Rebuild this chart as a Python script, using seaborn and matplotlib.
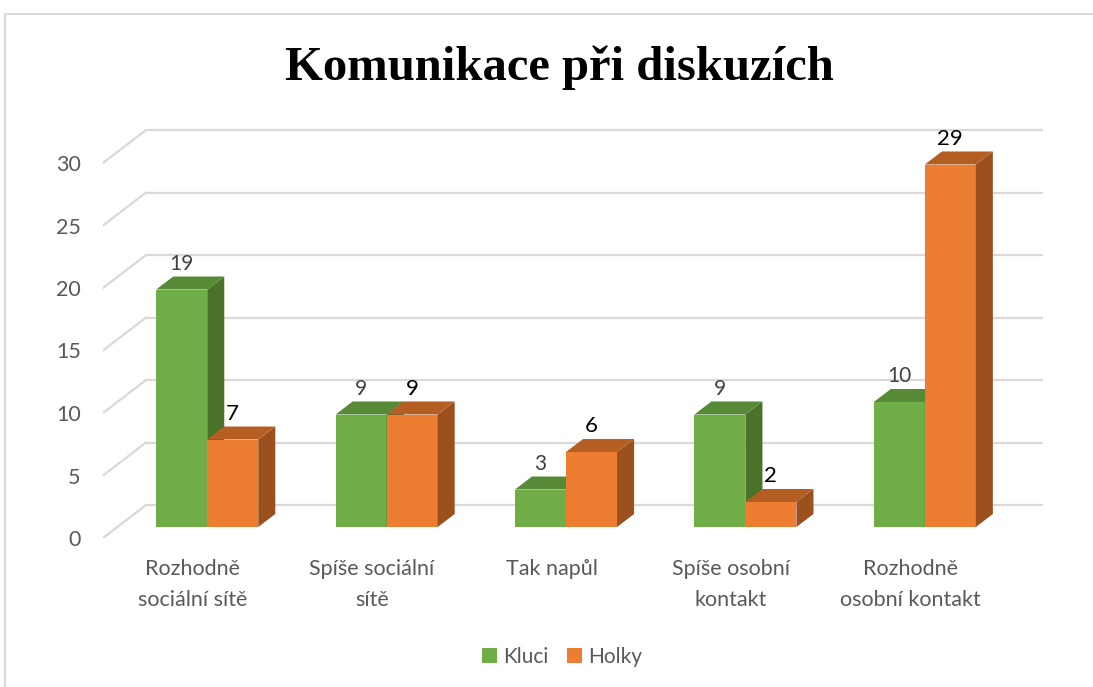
import matplotlib
matplotlib.use("Agg")
import pandas as pd
import matplotlib.pyplot as plt
from matplotlib.patches import Polygon, Rectangle, Patch
import seaborn as sns

# ---- data ----
categories = ["Rozhodně\nsociální sítě", "Spíše sociální\nsítě", "Tak napůl",
              "Spíše osobní\nkontakt", "Rozhodně\nosobní kontakt"]
kluci = [19, 9, 3, 9, 10]
holky = [7, 9, 6, 2, 29]
series = ["Kluci", "Holky"]
y_ticks = [0, 5, 10, 15, 20, 25, 30]

# front / side / top shades (Excel 3D look)
colors = {"Kluci": ("#70AD47", "#4B7229", "#578A37"),
          "Holky": ("#ED7D31", "#9C501E", "#B45E23")}
label_style = {"Kluci": ("#404040", 15), "Holky": ("#000000", 16)}

# oblique depth offsets (data units)
BAR_DX, BAR_DY = 0.095, 1.04
BACK_DX, BACK_DY = 0.159, 1.76
FRONT_DX, FRONT_DY = -0.081, -0.88
GRID = "#D9D9D9"

sns.set_theme(style="white")
plt.rcParams["font.family"] = ["Lato", "DejaVu Sans"]

df = pd.DataFrame({
    "kategorie": categories * 2,
    "pocet": kluci + holky,
    "pohlavi": ["Kluci"] * len(kluci) + ["Holky"] * len(holky),
})

fig = plt.figure(figsize=(10.93, 6.87), dpi=100)
ax = fig.add_axes([103 / 1093, 149 / 687, 940 / 1093, 411 / 687])

sns.barplot(data=df, x="kategorie", y="pocet", hue="pohlavi",
            palette={s: colors[s][0] for s in series}, width=0.569,
            saturation=1, gap=0, errorbar=None, legend=False,
            linewidth=0, ax=ax)

n = len(categories)

# back wall gridlines + left floor diagonals
for v in y_ticks:
    ax.plot([-0.5 + BACK_DX, n - 0.5 + BACK_DX], [v + BACK_DY] * 2,
            color=GRID, lw=1.6, zorder=1, solid_capstyle="butt")
    ax.plot([-0.5 + FRONT_DX, -0.5 + BACK_DX], [v + FRONT_DY, v + BACK_DY],
            color=GRID, lw=1.6, zorder=1)

# 3D side and top faces, value labels
for k, (s, cont) in enumerate(zip(series, ax.containers)):
    front, side, top = colors[s]
    for bar in cont:
        x, w, h = bar.get_x(), bar.get_width(), bar.get_height()
        bar.set_zorder(3 + k)
        ax.add_patch(Polygon([(x + w, 0), (x + w + BAR_DX, BAR_DY),
                              (x + w + BAR_DX, h + BAR_DY), (x + w, h)],
                             closed=True, facecolor=side, edgecolor="none",
                             zorder=3 + k))
        ax.add_patch(Polygon([(x, h), (x + w, h), (x + w + BAR_DX, h + BAR_DY),
                              (x + BAR_DX, h + BAR_DY)],
                             closed=True, facecolor=top, edgecolor="none",
                             zorder=3 + k))
        col, fs = label_style[s]
        ax.text(x + w / 2, h + BAR_DY + 0.2, f"{h:.0f}", ha="center",
                va="bottom", color=col, fontsize=fs, zorder=6)

ax.set_xlim(-0.5 + FRONT_DX, n - 0.5 + BACK_DX)
ax.set_ylim(FRONT_DY, 32)
ax.set_xticks([i + FRONT_DX for i in range(n)], categories,
              fontsize=15.5, color="#595959", linespacing=1.7)
ax.set_yticks([v + FRONT_DY for v in y_ticks], [str(v) for v in y_ticks],
              fontsize=15.5, color="#595959")
ax.tick_params(axis="y", length=0, pad=16)
ax.tick_params(axis="x", length=0, pad=15)
ax.set_xlabel("")
ax.set_ylabel("")
sns.despine(ax=ax, left=True, bottom=True)

fig.text(559 / 1093, 1 - 80 / 687, "Komunikace při diskuzích", ha="center",
         va="baseline", fontsize=35, fontweight="bold",
         family=["Liberation Serif", "DejaVu Serif"], color="#000000")

handles = [Patch(facecolor=colors[s][0], edgecolor="none") for s in series]
fig.legend(handles, series, loc="center", ncol=2, frameon=False,
           bbox_to_anchor=(562 / 1093, 1 - 657 / 687), fontsize=15,
           handlelength=0.7, handleheight=0.7, handletextpad=0.3,
           columnspacing=0.9, labelcolor="#595959")

# chart area border
fig.patches.append(Rectangle((5 / 1093, -0.1), 1.2, 1 - 14 / 687 + 0.1,
                             transform=fig.transFigure, fill=False,
                             edgecolor=GRID, lw=1.5))

fig.savefig("out.png", dpi=100)
